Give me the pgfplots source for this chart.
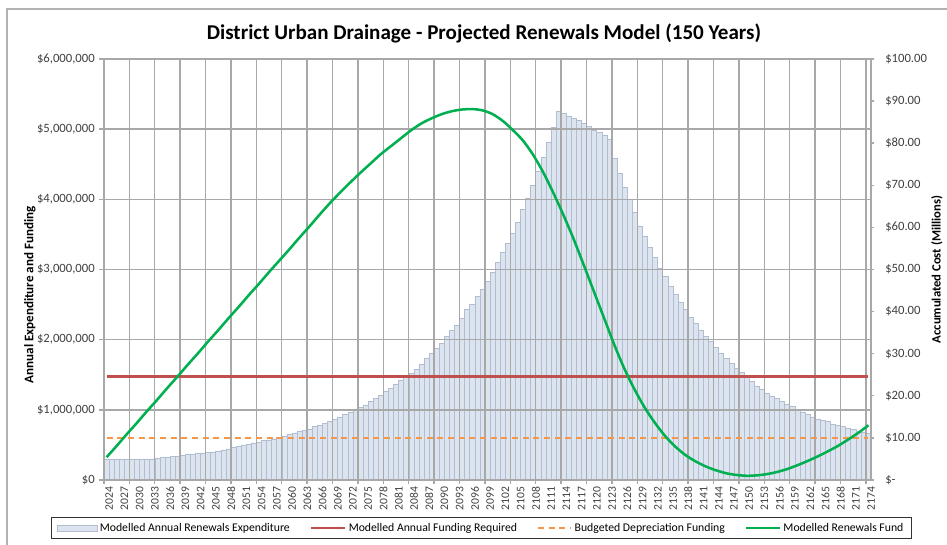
\documentclass[border=0pt]{standalone}
\usepackage{pgfplots}
\pgfplotsset{compat=1.18}
\usepackage{fontspec}
\setmainfont{Carlito}
\definecolor{barfill}{RGB}{220,228,240}
\definecolor{baredge}{RGB}{178,190,208}
\definecolor{gridc}{RGB}{168,168,168}
\definecolor{redl}{RGB}{192,80,77}
\definecolor{orangel}{RGB}{247,150,70}
\definecolor{greenl}{RGB}{0,176,80}
\definecolor{tickc}{RGB}{64,64,64}
\pgfplotsset{
  linelegend/.style={legend image code/.code={\draw[##1] (0pt,0pt) -- (25pt,0pt);}},
  barlegend/.style={legend image code/.code={\draw[fill=barfill, draw=baredge, line width=0.4pt] (0pt,-2.3pt) rectangle (30pt,2.3pt);}},
  mybox/.style={at={(78pt,48.75pt)}, anchor=south west, scale only axis, width=575.25pt, height=315.75pt, xmin=2023.5, xmax=2174.5},
}
\pgfplotstableread{
year val
2024 0.30
2025 0.30
2026 0.30
2027 0.30
2028 0.30
2029 0.30
2030 0.30
2031 0.30
2032 0.30
2033 0.30
2034 0.31
2035 0.32
2036 0.33
2037 0.335
2038 0.34
2039 0.35
2040 0.36
2041 0.37
2042 0.375
2043 0.385
2044 0.39
2045 0.40
2046 0.415
2047 0.43
2048 0.445
2049 0.465
2050 0.48
2051 0.50
2052 0.515
2053 0.53
2054 0.54
2055 0.56
2056 0.57
2057 0.585
2058 0.61
2059 0.63
2060 0.65
2061 0.67
2062 0.69
2063 0.71
2064 0.73
2065 0.76
2066 0.78
2067 0.81
2068 0.84
2069 0.86
2070 0.90
2071 0.93
2072 0.96
2073 1.00
2074 1.04
2075 1.07
2076 1.12
2077 1.16
2078 1.21
2079 1.26
2080 1.31
2081 1.36
2082 1.42
2083 1.47
2084 1.52
2085 1.58
2086 1.65
2087 1.74
2088 1.81
2089 1.88
2090 1.95
2091 2.05
2092 2.14
2093 2.21
2094 2.31
2095 2.43
2096 2.50
2097 2.62
2098 2.72
2099 2.83
2100 2.96
2101 3.10
2102 3.24
2103 3.37
2104 3.52
2105 3.68
2106 3.86
2107 4.02
2108 4.20
2109 4.40
2110 4.60
2111 4.81
2112 5.03
2113 5.26
2114 5.23
2115 5.19
2116 5.15
2117 5.12
2118 5.08
2119 5.04
2120 4.99
2121 4.95
2122 4.91
2123 4.86
2124 4.58
2125 4.37
2126 4.17
2127 4.00
2128 3.81
2129 3.62
2130 3.47
2131 3.31
2132 3.17
2133 3.02
2134 2.90
2135 2.76
2136 2.64
2137 2.53
2138 2.43
2139 2.32
2140 2.24
2141 2.14
2142 2.05
2143 1.98
2144 1.89
2145 1.81
2146 1.73
2147 1.66
2148 1.59
2149 1.53
2150 1.46
2151 1.40
2152 1.34
2153 1.29
2154 1.24
2155 1.20
2156 1.16
2157 1.12
2158 1.08
2159 1.05
2160 1.01
2161 0.97
2162 0.94
2163 0.90
2164 0.87
2165 0.85
2166 0.83
2167 0.80
2168 0.78
2169 0.76
2170 0.74
2171 0.72
2172 0.70
2173 0.68
2174 0.67
}\expdata
\pgfplotstableread{
year fund
2024 5.4
2026 8.1
2028 10.9
2030 13.6
2032 16.4
2034 19.1
2036 21.9
2038 24.6
2040 27.4
2042 30.1
2044 32.9
2046 35.6
2048 38.4
2050 41.1
2052 43.9
2054 46.6
2056 49.4
2058 52.1
2060 54.8
2062 57.6
2064 60.3
2066 63.1
2068 65.8
2070 68.3
2072 70.7
2074 73.0
2076 75.2
2078 77.4
2080 79.3
2082 81.2
2084 83.1
2086 84.7
2088 85.9
2090 86.9
2092 87.6
2094 88.0
2096 88.1
2098 87.8
2100 86.9
2102 85.3
2104 83.1
2106 80.6
2108 77.2
2110 73.0
2112 68.1
2114 62.8
2116 57.1
2118 50.9
2120 44.6
2122 38.3
2124 32.0
2126 26.3
2128 21.4
2130 17.1
2132 13.5
2134 10.4
2136 7.9
2138 5.9
2140 4.4
2142 3.2
2144 2.3
2146 1.6
2148 1.2
2150 1.0
2152 1.1
2154 1.4
2156 1.9
2158 2.6
2160 3.5
2162 4.5
2164 5.6
2166 6.8
2168 8.1
2170 9.6
2172 11.2
2174 13.0
}\funddata
\begin{document}
\begin{tikzpicture}
\useasboundingbox (0pt,0pt) rectangle (710.25pt,408.75pt);
\draw[gray!60, line width=0.8pt] (5.25pt,-2pt) -- (5.25pt,402pt) -- (712pt,402pt);
\node[font=\fontsize{15.8}{18}\selectfont\bfseries, anchor=center] at (363pt,384pt)
  {District Urban Drainage - Projected Renewals Model (150 Years)};
% bars (beneath the grid)
\begin{axis}[mybox, ymin=0, ymax=6, hide axis]
\addplot[ybar, bar width=1, fill=barfill, draw=baredge, line width=0.4pt]
  table[x=year, y=val] {\expdata};
\end{axis}
% grid, left axis, funding lines, legend
\begin{axis}[mybox, ymin=0, ymax=6,
  axis line style={gridc, line width=1.05pt},
  ytick={0,1,...,6},
  yticklabels={{\$0},{\$1,000,000},{\$2,000,000},{\$3,000,000},{\$4,000,000},{\$5,000,000},{\$6,000,000}},
  ymajorgrids, xminorgrids,
  grid style={gridc, line width=1.05pt},
  minor grid style={gridc, line width=1.05pt},
  xtick={2024,2027,...,2174},
  minor xtick={2023.5,2028.5,...,2173.5},
  tickpos=left, tick align=outside,
  major tick length=3.75pt, minor tick length=3pt,
  major x tick style={draw=none},
  ytick style={gridc, line width=1.05pt},
  minor x tick style={gridc, line width=1.05pt},
  /pgf/number format/assume math mode=true,
  xticklabel style={/pgf/number format/1000 sep={}, rotate=90, anchor=east, inner sep=1pt, yshift=-2pt, font=\fontsize{8.7}{10}\selectfont, text=tickc},
  yticklabel style={font=\fontsize{9.5}{11}\selectfont, text=tickc, inner sep=1pt, xshift=-2pt},
  ylabel={\bfseries Annual Expenditure and Funding},
  ylabel style={at={(axis description cs:-0.0965,0.44)}, anchor=center, rotate=0, font=\fontsize{9.8}{11}\selectfont},
  legend columns=4,
  legend style={at={(axis description cs:0.492,-0.114)}, anchor=center, draw=black!80, line width=0.6pt,
    font=\fontsize{8.8}{10}\selectfont, inner xsep=4pt, inner ysep=2pt,
    /tikz/every even column/.append style={column sep=13pt}},
  legend cell align=left,
]
\addlegendimage{barlegend}
\addlegendentry{Modelled Annual Renewals Expenditure}
\addplot[redl, line width=2.2pt, linelegend]
  coordinates {(2024,1.48) (2174,1.48)};
\addlegendentry{Modelled Annual Funding Required}
\addplot[orangel, line width=1.1pt, dash pattern=on 4.5pt off 3.5pt, linelegend]
  coordinates {(2024,0.6) (2174,0.6)};
\addlegendentry{Budgeted Depreciation Funding}
\addlegendimage{greenl, line width=1.9pt, linelegend}
\addlegendentry{Modelled Renewals Fund}
\end{axis}
% right axis, fund line
\begin{axis}[mybox, ymin=0, ymax=100,
  axis x line=none, axis y line*=right,
  axis line style={gridc, line width=1.05pt},
  ytick={0,10,...,100},
  yticklabels={{\$-},{\$10.00},{\$20.00},{\$30.00},{\$40.00},{\$50.00},{\$60.00},{\$70.00},{\$80.00},{\$90.00},{\$100.00}},
  tick align=outside, major tick length=2.5pt,
  ytick style={gridc, line width=1.05pt},
  yticklabel style={font=\fontsize{9.5}{11}\selectfont, text=tickc, inner sep=1pt, xshift=7pt},
  ylabel={\bfseries Accumulated Cost (Millions)},
  ylabel style={at={(axis description cs:1.086,0.5)}, anchor=center, rotate=0, font=\fontsize{9.5}{11}\selectfont},
]
\addplot[greenl, line width=1.9pt, smooth] table[x=year, y=fund] {\funddata};
\end{axis}
\end{tikzpicture}
\end{document}
